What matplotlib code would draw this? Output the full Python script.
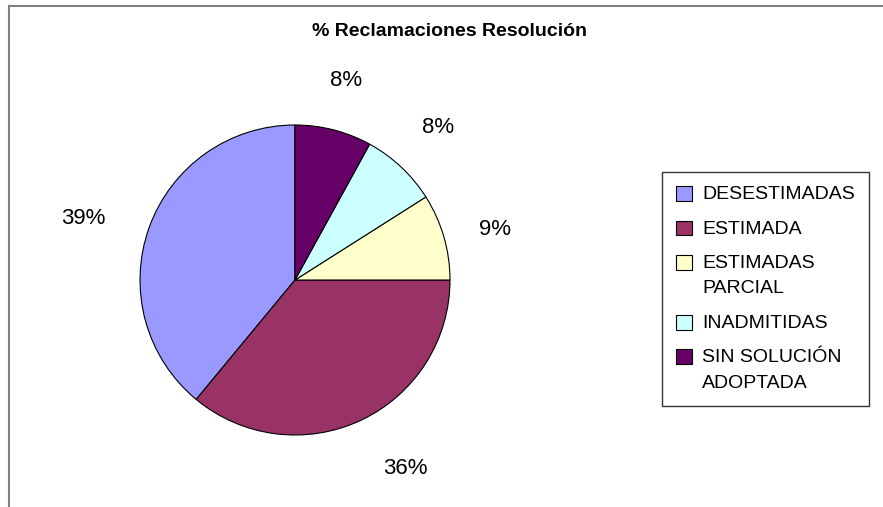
import numpy as np
import matplotlib.pyplot as plt
from matplotlib.lines import Line2D

W, H = 883, 507

categories = ["DESESTIMADAS", "ESTIMADA", "ESTIMADAS\nPARCIAL", "INADMITIDAS", "SIN SOLUCIÓN\nADOPTADA"]
shares = [39, 36, 9, 8, 8]
colors = ["#9999FF", "#993366", "#FFFFCC", "#CCFFFF", "#660066"]
# Excel-style outside labels: distance (in radii) and angle nudge (deg)
label_dist = [1.42, 1.41, 1.33, 1.35, 1.33]
label_nudge = [3.5, 5.0, -2.0, 0.0, 0.0]
title = "% Reclamaciones Resolución"

plt.rcParams["font.family"] = ["Liberation Sans", "DejaVu Sans"]

fig = plt.figure(figsize=(W / 100, H / 100), dpi=100)
ax = fig.add_axes([0, 0, 1, 1])
ax.axis("off")

# pixel layout: y measured from top
cx, cy, r = 295, 280, 155
wedges, texts, autotexts = ax.pie(
    shares, colors=colors, startangle=90, counterclock=True,
    center=(cx, H - cy), radius=r, autopct="%1.0f%%",
    wedgeprops=dict(edgecolor="black", linewidth=0.8),
    textprops=dict(fontsize=16, color="black"), frame=False)
ax.set_xlim(0, W); ax.set_ylim(0, H)
ax.set_aspect("equal")

for w, t, d, n in zip(wedges, autotexts, label_dist, label_nudge):
    a = np.deg2rad((w.theta1 + w.theta2) / 2 + n)
    t.set_position((cx + d * r * np.cos(a), H - cy + d * r * np.sin(a)))
    t.set_ha("center"); t.set_va("center")

# chart frame (top and left edges only visible)
ax.add_line(Line2D([9, W], [H - 6, H - 6], color="#808080", lw=1.5))
ax.add_line(Line2D([9, 9], [H - 6, 0], color="#808080", lw=1.5))

fig.text(450 / W, 1 - 31 / H, title, ha="center", va="center",
         fontsize=14, fontweight="bold")

leg = fig.legend(wedges, categories, loc="upper left",
                 bbox_to_anchor=(662 / W, 1 - 172 / H), borderaxespad=0,
                 fontsize=14, frameon=True, fancybox=False, edgecolor="black",
                 handlelength=0.8, handleheight=0.8, handletextpad=0.55,
                 labelspacing=0.9, borderpad=0.72)
leg.get_frame().set_linewidth(1.0)
for t in leg.get_texts():
    t.set_linespacing(1.65)
# keep swatches level with the first line of wrapped labels
for col in leg._legend_handle_box.get_children():
    for item in col.get_children():
        item.align = "top"

fig.savefig("out.png", dpi=100)
